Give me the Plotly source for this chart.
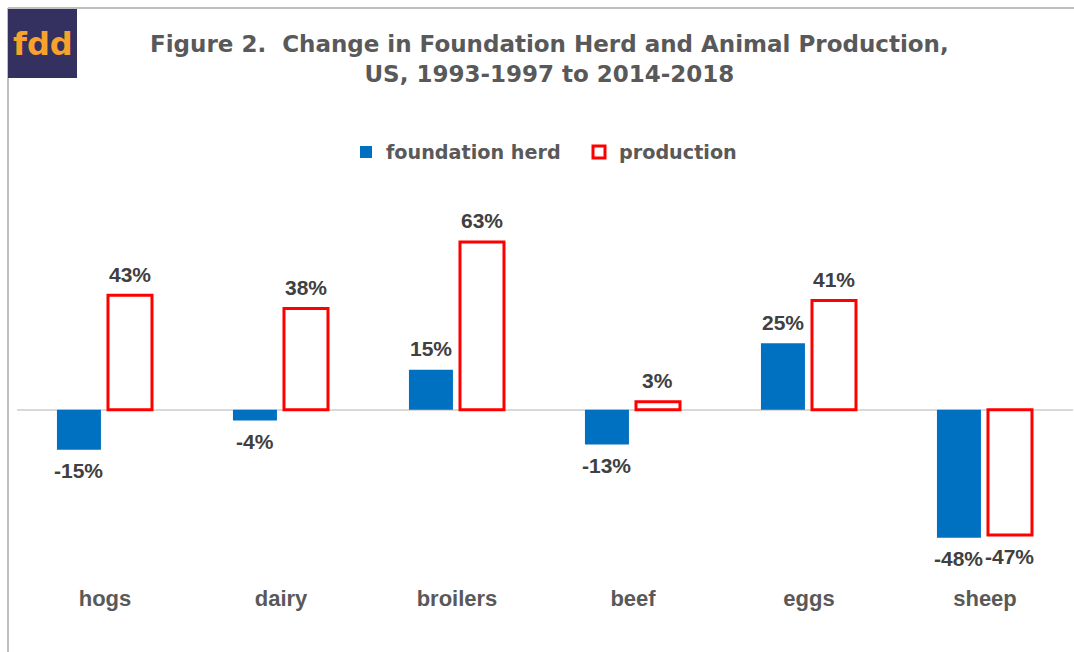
import plotly.graph_objects as go

# Percent change, 1993-1997 average to 2014-2018 average
categories = ["hogs", "dairy", "broilers", "beef", "eggs", "sheep"]
foundation_herd = [-15, -4, 15, -13, 25, -48]
production = [43, 38, 63, 3, 41, -47]

W, H = 1074, 652
ML, MR, MT, MB = 17, 1, 210, 69
PW, PH = W - ML - MR, H - MT - MB
BAR_W = 0.25
HERD_OFF, PROD_OFF = -0.273, 0.017


def px_x(p):
    return (p - ML) / PW


def px_y(p):
    return 1 - (p - MT) / PH


label_font = dict(family="Liberation Sans, Arial, sans-serif", size=21, color="#404040", weight="bold")

fig = go.Figure()
fig.add_trace(go.Bar(
    x=categories, y=foundation_herd, name="foundation herd",
    marker=dict(color="#0070c0", line=dict(width=0)),
    width=BAR_W, offset=HERD_OFF,
))
fig.add_trace(go.Bar(
    x=categories, y=production, name="production",
    marker=dict(color="white", line=dict(color="#ff0000", width=3)),
    width=BAR_W, offset=PROD_OFF,
))

# value labels above positive bars and below negative ones
annotations = []
unit_px = PW / len(categories)
for series, off in ((foundation_herd, HERD_OFF), (production, PROD_OFF)):
    for cat, v in zip(categories, series):
        annotations.append(dict(
            x=cat, y=v, xref="x", yref="y", text=f"{v}%", showarrow=False,
            xshift=(off + BAR_W / 2) * unit_px, yshift=21 if v >= 0 else -21,
            xanchor="center", yanchor="middle", font=label_font,
        ))

shapes = [
    # outer frame (left and top edges)
    dict(type="line", xref="paper", yref="paper", x0=px_x(8), x1=px_x(8), y0=px_y(8), y1=px_y(660),
         line=dict(color="#bfbfbf", width=2)),
    dict(type="line", xref="paper", yref="paper", x0=px_x(8), x1=px_x(1080), y0=px_y(8), y1=px_y(8),
         line=dict(color="#bfbfbf", width=2)),
    # logo box
    dict(type="rect", xref="paper", yref="paper", x0=px_x(8), x1=px_x(77), y0=px_y(9), y1=px_y(78),
         fillcolor="#34305f", line=dict(width=0)),
]

annotations += [
    dict(text="fdd", xref="paper", yref="paper", x=px_x(42.5), y=px_y(44), showarrow=False,
         font=dict(family="DejaVu Sans, sans-serif", size=32, color="#f7a22d", weight="bold"),
         xanchor="center", yanchor="middle"),
    dict(text="Figure 2.  Change in Foundation Herd and Animal Production,<br>US, 1993-1997 to 2014-2018",
         xref="paper", yref="paper", x=px_x(549), y=px_y(59), showarrow=False,
         font=dict(family="DejaVu Sans, sans-serif", size=23, color="#595959", weight="bold"),
         xanchor="center", yanchor="middle", align="center"),
]

fig.update_layout(
    width=W, height=H,
    margin=dict(l=ML, r=MR, t=MT, b=MB),
    paper_bgcolor="white", plot_bgcolor="white",
    barmode="group",
    font=dict(family="Liberation Sans, Arial, sans-serif", color="#595959", weight="bold"),
    showlegend=True,
    legend=dict(orientation="h", x=px_x(346), y=px_y(152), xanchor="left", yanchor="middle",
                font=dict(family="DejaVu Sans, sans-serif", size=19.2, color="#595959", weight="bold"),
                itemwidth=30, entrywidth=188, entrywidthmode="pixels",
                bgcolor="rgba(0,0,0,0)"),
    xaxis=dict(showline=False, ticks="", showgrid=False,
               tickfont=dict(size=22, color="#595959", weight="bold")),
    yaxis=dict(range=[-65, 75], showgrid=False, showticklabels=False, ticks="",
               zeroline=True, zerolinecolor="#d9d9d9", zerolinewidth=1.5),
    shapes=shapes,
    annotations=annotations,
)

fig.write_html("out.html")
